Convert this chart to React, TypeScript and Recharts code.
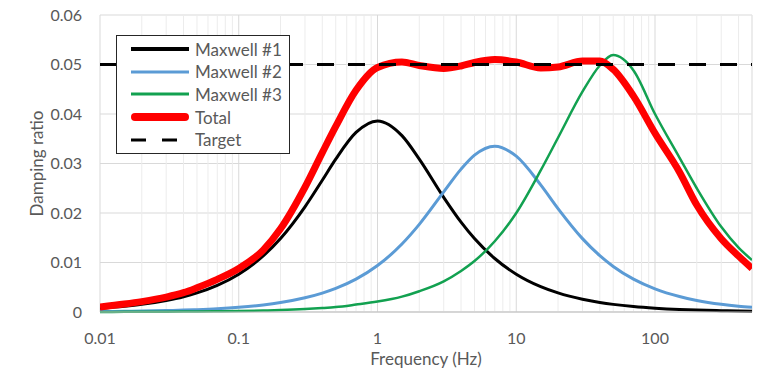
import React from 'react';
import {
  LineChart,
  Line,
  XAxis,
  YAxis,
  CartesianGrid,
  ReferenceLine,
  Legend,
  Label,
} from 'recharts';

const freq = [
  0.01, 0.015, 0.02, 0.03, 0.04, 0.05, 0.07, 0.1, 0.15, 0.2, 0.3, 0.4, 0.5, 0.7,
  1, 1.5, 2, 3, 4, 5, 7, 10, 15, 20, 30, 40, 50, 70, 100, 150, 200, 300, 400, 500,
];

const maxwell1 = [
  0.00077, 0.00116, 0.00154, 0.00232, 0.00308, 0.00385, 0.00538, 0.00764, 0.01133, 0.01485,
  0.02125, 0.02662, 0.03088, 0.03627, 0.0386, 0.03563, 0.03088, 0.02316, 0.01816, 0.01485,
  0.01081, 0.00764, 0.00512, 0.00385, 0.00257, 0.00193, 0.00154, 0.0011, 0.00077, 0.00051,
  0.00039, 0.00026, 0.00019, 0.00015,
];

const maxwell2 = [
  0.0001, 0.00014, 0.00019, 0.00029, 0.00038, 0.00048, 0.00067, 0.00096, 0.00143, 0.00191,
  0.00287, 0.00382, 0.00476, 0.00663, 0.00938, 0.01373, 0.0177, 0.02426, 0.02886, 0.03169,
  0.0335, 0.03148, 0.02568, 0.02089, 0.01482, 0.01138, 0.0092, 0.00663, 0.00467, 0.00312,
  0.00234, 0.00156, 0.00117, 0.00094,
];

const maxwell3 = [
  0.00002, 0.00003, 0.00004, 0.00006, 0.00008, 0.0001, 0.00015, 0.0002, 0.0003, 0.0004,
  0.0006, 0.0008, 0.001, 0.0015, 0.0021, 0.0031, 0.0042, 0.0062, 0.0083, 0.0103,
  0.0143, 0.02, 0.0286, 0.0352, 0.0445, 0.0498, 0.0519, 0.0488, 0.04, 0.0312,
  0.025, 0.0172, 0.013, 0.0105,
];

const total = [
  0.001, 0.0016, 0.0021, 0.003, 0.0039, 0.0049, 0.0066, 0.0088, 0.0125, 0.0168,
  0.0252, 0.0322, 0.0375, 0.0448, 0.0494, 0.0505, 0.0498, 0.0492, 0.0497, 0.0504,
  0.051, 0.0505, 0.0493, 0.0495, 0.0507, 0.0507, 0.049, 0.0436, 0.0361, 0.0283,
  0.0216, 0.0148, 0.0113, 0.0088,
];

const TARGET = 0.05;
const xDomain = [0.01, 500];
const xTicks = [0.01, 0.1, 1, 10, 100];
const xMinor = [
  0.02, 0.03, 0.04, 0.05, 0.06, 0.07, 0.08, 0.09,
  0.2, 0.3, 0.4, 0.5, 0.6, 0.7, 0.8, 0.9,
  2, 3, 4, 5, 6, 7, 8, 9,
  20, 30, 40, 50, 60, 70, 80, 90,
  200, 300, 400, 500,
];
const yTicks = [0, 0.01, 0.02, 0.03, 0.04, 0.05, 0.06];

const data = freq.map((f, i) => ({
  f,
  m1: maxwell1[i],
  m2: maxwell2[i],
  m3: maxwell3[i],
  total: total[i],
}));

const targetData = xDomain.map((f) => ({ f, target: TARGET }));

const FONT = 'Lato, "Liberation Sans", sans-serif';
const TEXT = '#595959';

const legendRows = [
  { name: 'Maxwell #1', color: '#000000', width: 4 },
  { name: 'Maxwell #2', color: '#5b9bd5', width: 3 },
  { name: 'Maxwell #3', color: '#12a150', width: 3 },
  { name: 'Total', color: '#ff0000', width: 8, round: true },
  { name: 'Target', color: '#000000', width: 3, dash: '15 16' },
];

const LegendBox = () => (
  <div
    style={{
      boxSizing: 'border-box',
      width: 174,
      height: 119,
      border: '1.5px solid #262626',
      background: '#ffffff',
      padding: '2px 0 0 14px',
      fontFamily: FONT,
    }}
  >
    {legendRows.map((r) => (
      <div key={r.name} style={{ height: 22.6, display: 'flex', alignItems: 'center' }}>
        <svg width={58} height={12} style={{ display: 'block' }}>
          <line
            x1={r.round ? 4 : 0}
            y1={6}
            x2={r.round ? 54 : 58}
            y2={6}
            stroke={r.color}
            strokeWidth={r.width}
            strokeDasharray={r.dash}
            strokeLinecap={r.round ? 'round' : 'butt'}
          />
        </svg>
        <span style={{ marginLeft: 6, fontSize: 17, color: TEXT, lineHeight: 1 }}>{r.name}</span>
      </div>
    ))}
  </div>
);

export default function App() {
  return (
    <div style={{ position: 'absolute', left: 0, top: 0, background: '#fff' }}>
      <LineChart
        width={766}
        height={374}
        data={data}
        margin={{ top: 15, right: 14, bottom: 0, left: 0 }}
        style={{ fontFamily: FONT }}
      >
        {xMinor.map((v) => (
          <ReferenceLine key={v} x={v} stroke="#ececec" strokeWidth={1} />
        ))}
        <CartesianGrid stroke="#d9d9d9" />
        <XAxis
          dataKey="f"
          type="number"
          scale="log"
          domain={xDomain}
          ticks={xTicks}
          allowDataOverflow
          tickFormatter={(v) => String(v)}
          tickLine={false}
          tickSize={0}
          tickMargin={21}
          height={62}
          stroke="#bfbfbf"
          tick={{ fill: TEXT, fontSize: 16 }}
        >
          <Label
            value="Frequency (Hz)"
            position="insideBottom"
            offset={9}
            style={{ fill: TEXT, fontSize: 17 }}
          />
        </XAxis>
        <YAxis
          type="number"
          domain={[0, 0.06]}
          ticks={yTicks}
          width={100}
          axisLine={false}
          tickLine={false}
          tickSize={0}
          tickMargin={18}
          tick={{ fill: TEXT, fontSize: 16 }}
          tickFormatter={(v) => String(v)}
        >
          <Label
            value="Damping ratio"
            angle={-90}
            position="insideLeft"
            offset={37}
            style={{ fill: TEXT, fontSize: 17, textAnchor: 'middle' }}
          />
        </YAxis>
        <Legend
          layout="horizontal"
          verticalAlign="middle"
          align="center"
          content={() => <LegendBox />}
          wrapperStyle={{ left: 116, top: 35, width: 174, height: 119 }}
        />
        <Line dataKey="m1" type="monotone" stroke="#000000" strokeWidth={3} dot={false} isAnimationActive={false} />
        <Line dataKey="m2" type="monotone" stroke="#5b9bd5" strokeWidth={3} dot={false} isAnimationActive={false} />
        <Line dataKey="m3" type="monotone" stroke="#12a150" strokeWidth={2.5} dot={false} isAnimationActive={false} />
        <Line dataKey="total" type="monotone" stroke="#ff0000" strokeWidth={7} dot={false} isAnimationActive={false} />
        <Line
          data={targetData}
          dataKey="target"
          type="linear"
          stroke="#000000"
          strokeWidth={3}
          strokeDasharray="17 14"
          dot={false}
          isAnimationActive={false}
        />
      </LineChart>
    </div>
  );
}
